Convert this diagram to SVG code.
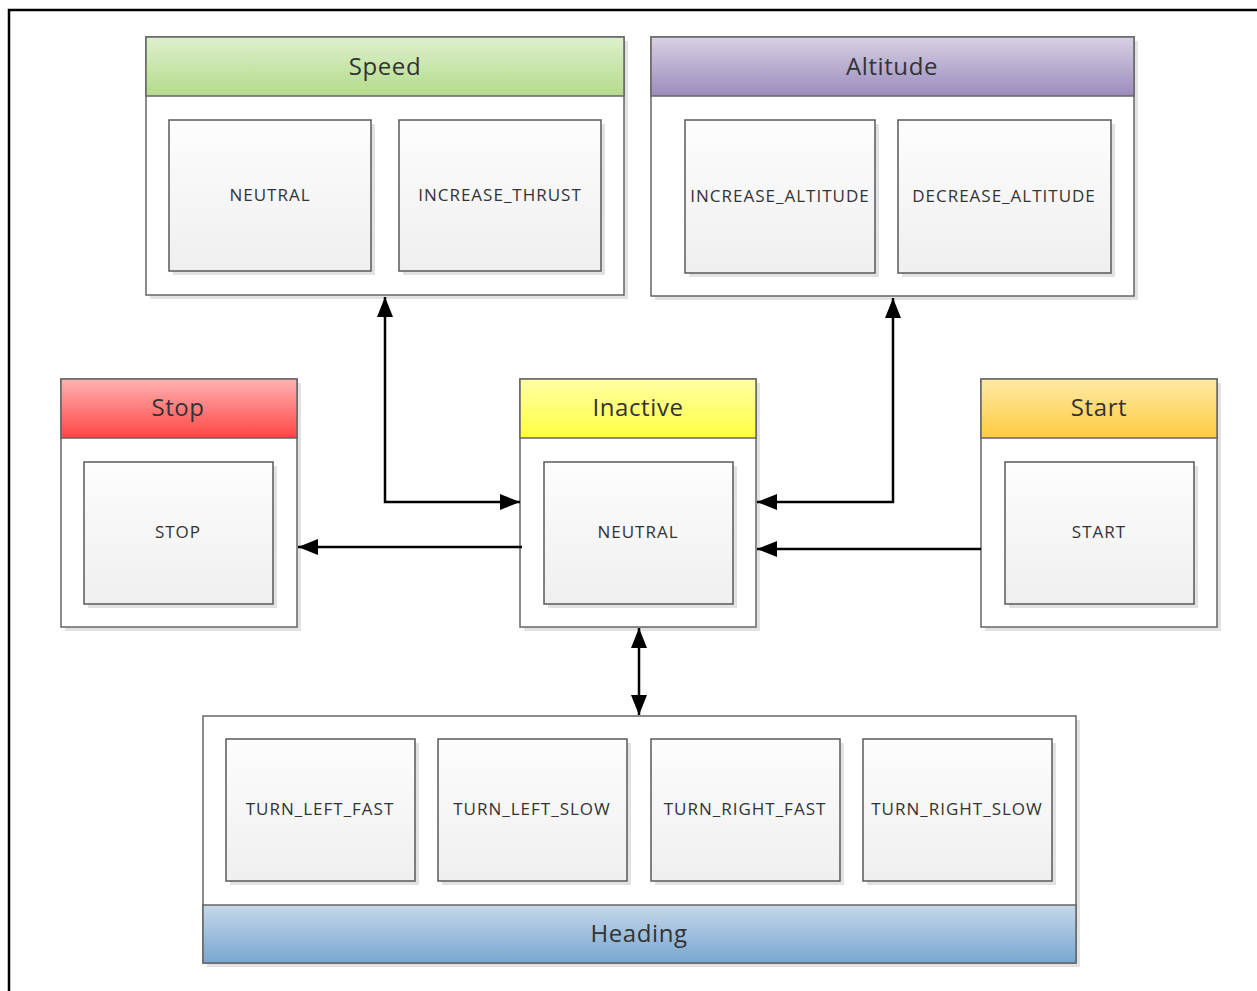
<svg xmlns="http://www.w3.org/2000/svg" width="1257" height="991" viewBox="0 0 1257 991">
<style>
.frame{fill:#fff;stroke:#666;stroke-width:1.5}
.hdr{stroke:#666;stroke-width:1.5}
.st{fill:url(#gState);stroke:#595959;stroke-width:1.5}
.sh{fill:#e2e2e2}
.t1{font-family:"Open Sans","Liberation Sans",sans-serif;font-size:24px;letter-spacing:0.6px;fill:#333;text-anchor:middle}
.t2{font-family:"Open Sans","Liberation Sans",sans-serif;font-size:17px;letter-spacing:1px;fill:#333;text-anchor:middle}
.cn{fill:none;stroke:#000;stroke-width:2.5}
</style>
<defs>
<linearGradient id="gState" x1="0" y1="0" x2="0" y2="1"><stop offset="0" stop-color="#fdfdfd"/><stop offset="1" stop-color="#efefef"/></linearGradient>
<linearGradient id="gGreen" x1="0" y1="0" x2="0" y2="1"><stop offset="0" stop-color="#def0cd"/><stop offset="1" stop-color="#b3db8b"/></linearGradient>
<linearGradient id="gPurple" x1="0" y1="0" x2="0" y2="1"><stop offset="0" stop-color="#d7d1e4"/><stop offset="1" stop-color="#9b8bbc"/></linearGradient>
<linearGradient id="gRed" x1="0" y1="0" x2="0" y2="1"><stop offset="0" stop-color="#ffb3b3"/><stop offset="1" stop-color="#ff4545"/></linearGradient>
<linearGradient id="gYellow" x1="0" y1="0" x2="0" y2="1"><stop offset="0" stop-color="#ffffa6"/><stop offset="1" stop-color="#ffff40"/></linearGradient>
<linearGradient id="gOrange" x1="0" y1="0" x2="0" y2="1"><stop offset="0" stop-color="#ffe9a6"/><stop offset="1" stop-color="#ffcc40"/></linearGradient>
<linearGradient id="gBlue" x1="0" y1="0" x2="0" y2="1"><stop offset="0" stop-color="#c6d8ea"/><stop offset="1" stop-color="#78a6d0"/></linearGradient>
<marker id="ah" viewBox="0 0 20 16" refX="20" refY="8" markerWidth="20" markerHeight="16" markerUnits="userSpaceOnUse" orient="auto-start-reverse"><path d="M0,0 L20,8 L0,16 Z" fill="#000"/></marker>
</defs>
<rect x="9" y="10" width="1262" height="1000" fill="#fff" stroke="#000" stroke-width="2.5"/>

<g id="speed">
<rect class="sh" x="150" y="41" width="478" height="258"/>
<rect class="frame" x="146" y="37" width="478" height="258"/>
<rect class="hdr" x="146" y="37" width="478" height="59" fill="url(#gGreen)"/>
<text class="t1" x="385" y="75">Speed</text>
<rect class="sh" x="173" y="124" width="202" height="151"/>
<rect class="st" x="169" y="120" width="202" height="151"/>
<text class="t2" x="270" y="201">NEUTRAL</text>
<rect class="sh" x="403" y="124" width="202" height="151"/>
<rect class="st" x="399" y="120" width="202" height="151"/>
<text class="t2" x="500" y="201">INCREASE_THRUST</text>
</g>

<g id="altitude">
<rect class="sh" x="655" y="41" width="483" height="259"/>
<rect class="frame" x="651" y="37" width="483" height="259"/>
<rect class="hdr" x="651" y="37" width="483" height="59" fill="url(#gPurple)"/>
<text class="t1" x="892" y="75">Altitude</text>
<rect class="sh" x="689" y="124" width="190" height="153"/>
<rect class="st" x="685" y="120" width="190" height="153"/>
<text class="t2" x="780" y="202">INCREASE_ALTITUDE</text>
<rect class="sh" x="902" y="124" width="213" height="153"/>
<rect class="st" x="898" y="120" width="213" height="153"/>
<text class="t2" x="1004" y="202">DECREASE_ALTITUDE</text>
</g>

<g id="stop">
<rect class="sh" x="65" y="383" width="236" height="248"/>
<rect class="frame" x="61" y="379" width="236" height="248"/>
<rect class="hdr" x="61" y="379" width="236" height="59" fill="url(#gRed)"/>
<text class="t1" x="178" y="416">Stop</text>
<rect class="sh" x="88" y="466" width="189" height="142"/>
<rect class="st" x="84" y="462" width="189" height="142"/>
<text class="t2" x="178" y="538">STOP</text>
</g>

<g id="inactive">
<rect class="sh" x="524" y="383" width="236" height="248"/>
<rect class="frame" x="520" y="379" width="236" height="248"/>
<rect class="hdr" x="520" y="379" width="236" height="59" fill="url(#gYellow)"/>
<text class="t1" x="638" y="416">Inactive</text>
<rect class="sh" x="548" y="466" width="189" height="142"/>
<rect class="st" x="544" y="462" width="189" height="142"/>
<text class="t2" x="638" y="538">NEUTRAL</text>
</g>

<g id="start">
<rect class="sh" x="985" y="383" width="236" height="248"/>
<rect class="frame" x="981" y="379" width="236" height="248"/>
<rect class="hdr" x="981" y="379" width="236" height="59" fill="url(#gOrange)"/>
<text class="t1" x="1099" y="416">Start</text>
<rect class="sh" x="1009" y="466" width="189" height="142"/>
<rect class="st" x="1005" y="462" width="189" height="142"/>
<text class="t2" x="1099" y="538">START</text>
</g>

<g id="heading">
<rect class="sh" x="207" y="720" width="873" height="247"/>
<rect class="frame" x="203" y="716" width="873" height="247"/>
<rect class="hdr" x="203" y="905" width="873" height="58" fill="url(#gBlue)"/>
<text class="t1" x="639" y="942">Heading</text>
<rect class="sh" x="230" y="743" width="189" height="142"/>
<rect class="st" x="226" y="739" width="189" height="142"/>
<text class="t2" x="320" y="815">TURN_LEFT_FAST</text>
<rect class="sh" x="442" y="743" width="189" height="142"/>
<rect class="st" x="438" y="739" width="189" height="142"/>
<text class="t2" x="532" y="815">TURN_LEFT_SLOW</text>
<rect class="sh" x="655" y="743" width="189" height="142"/>
<rect class="st" x="651" y="739" width="189" height="142"/>
<text class="t2" x="745" y="815">TURN_RIGHT_FAST</text>
<rect class="sh" x="867" y="743" width="189" height="142"/>
<rect class="st" x="863" y="739" width="189" height="142"/>
<text class="t2" x="957" y="815">TURN_RIGHT_SLOW</text>
</g>

<g id="connectors">
<path class="cn" d="M385,297 V502 H520" marker-start="url(#ah)" marker-end="url(#ah)"/>
<path class="cn" d="M893,298 V502 H757" marker-start="url(#ah)" marker-end="url(#ah)"/>
<path class="cn" d="M522,547 H298" marker-end="url(#ah)"/>
<path class="cn" d="M981,549 H757" marker-end="url(#ah)"/>
<path class="cn" d="M639,628 V715" marker-start="url(#ah)" marker-end="url(#ah)"/>
</g>
</svg>
